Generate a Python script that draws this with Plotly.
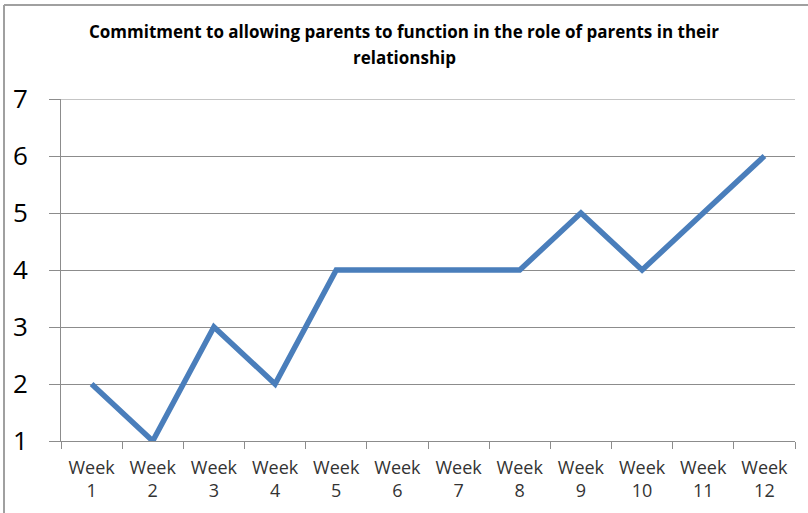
import plotly.graph_objects as go

weeks = ["Week<br>1", "Week<br>2", "Week<br>3", "Week<br>4", "Week<br>5", "Week<br>6",
         "Week<br>7", "Week<br>8", "Week<br>9", "Week<br>10", "Week<br>11", "Week<br>12"]
values = [2, 1, 3, 2, 4, 4, 4, 4, 5, 4, 5, 6]
y_ticks = [1, 2, 3, 4, 5, 6, 7]
title_lines = ["Commitment to allowing parents to function in the role of parents in their",
               "relationship"]

L, R, T, B = 61, 13, 99, 72
W, H = 808, 513
pw, ph = W - L - R, H - T - B

fig = go.Figure()
fig.add_trace(go.Scatter(x=weeks, y=values, mode="lines",
                         line=dict(color="#4A7EBB", width=5.5), showlegend=False))

grid = "#8C8C8C"
annotations = []
for i, (txt, ypix) in enumerate(zip(title_lines, [31, 58])):
    annotations.append(dict(text="<b>" + txt + "</b>", xref="paper", yref="paper",
                            x=(W / 2 - L) / pw, y=1 + (T - ypix) / ph,
                            xanchor="center", yanchor="middle", showarrow=False,
                            font=dict(family="Open Sans", size=17, color="#000000")))

fig.update_layout(
    width=W, height=H,
    margin=dict(l=L, r=R, t=T, b=B),
    paper_bgcolor="white", plot_bgcolor="white",
    annotations=annotations,
    xaxis=dict(type="category", showgrid=False, showline=True, linecolor=grid, linewidth=1,
               ticks="outside", ticklen=7, tickcolor=grid, tickson="boundaries",
               ticklabelstandoff=10,
               tickfont=dict(family="Open Sans", size=18, color="#333333"),
               range=[-0.5, 11.5]),
    yaxis=dict(range=[1, 7], tickvals=y_ticks, showgrid=True, gridcolor=grid, gridwidth=1,
               showline=True, linecolor=grid, linewidth=1, zeroline=False,
               ticks="outside", ticklen=11, tickcolor=grid,
               ticklabelstandoff=16,
               tickfont=dict(family="Open Sans", size=26, color="#000000")),
    shapes=[
        dict(type="line", xref="paper", yref="y",
             x0=0, x1=1, y0=y_ticks[-1], y1=y_ticks[-1],
             line=dict(color=grid, width=1)),
        dict(type="line", xref="paper", yref="paper",
             x0=(4 - L) / pw, x1=(4 - L) / pw, y0=(T - 5) / ph + 1, y1=-(B + 5) / ph,
             line=dict(color="#A0A0A0", width=2)),
        dict(type="line", xref="paper", yref="paper",
             x0=(4 - L) / pw, x1=(W + 5 - L) / pw, y0=(T - 5) / ph + 1, y1=(T - 5) / ph + 1,
             line=dict(color="#A0A0A0", width=2)),
    ],
)
fig.write_html("out.html")
